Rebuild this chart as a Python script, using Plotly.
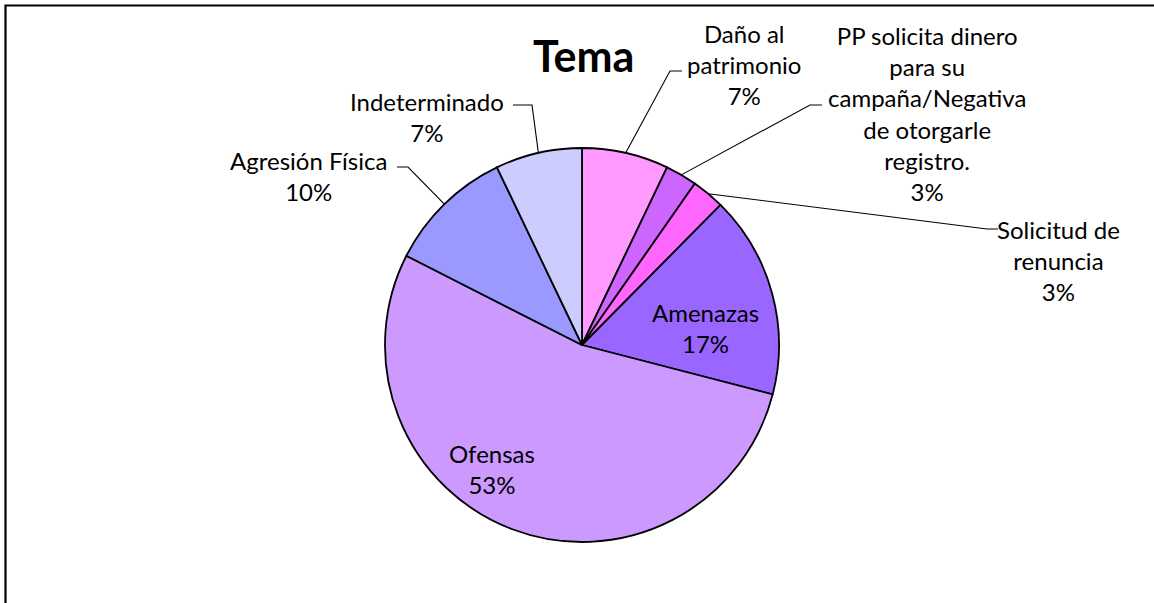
import math
import plotly.graph_objects as go

# ---- data ----
categories = ["Daño al patrimonio",
              "PP solicita dinero para su campaña/Negativa de otorgarle registro.",
              "Solicitud de renuncia",
              "Amenazas",
              "Ofensas",
              "Agresión Física",
              "Indeterminado"]
display_labels = ["Daño al<br>patrimonio",
                  "PP solicita dinero<br>para su<br>campaña/Negativa<br>de otorgarle<br>registro.",
                  "Solicitud de<br>renuncia",
                  "Amenazas",
                  "Ofensas",
                  "Agresión Física",
                  "Indeterminado"]
values = [7.1, 2.6, 2.7, 16.6, 53.4, 10.4, 7.1]
colors = ["#FF99FF", "#CC66FF", "#FF66FF", "#9966FF", "#CC99FF", "#9999FF", "#CCCCFF"]
title_text = "Tema"

# ---- layout constants (pixels) ----
W, H = 1154, 603
CX, CY, R = 582, 345, 197
FONT = "Lato, Calibri, Carlito, sans-serif"
FS = 24

# label block centres (pixels) and leader knee points (None = inside label)
label_pos = [(744, 65), (927, 113), (1058, 260), (705, 328), (492, 469), (308, 176), (427, 117)]
leader_knees = [((670, 71), (682, 71)),
                ((810, 105), (822, 105)),
                ((987, 229), (998, 229)),
                None,
                None,
                ((408, 167), (397, 167)),
                ((532, 105), (513, 105))]


def px(x):
    return x / W


def py(y):
    return 1 - y / H


fig = go.Figure(go.Pie(
    labels=categories,
    values=values,
    sort=False,
    direction="clockwise",
    rotation=0,
    textinfo="none",
    marker=dict(colors=colors, line=dict(color="black", width=1.8)),
    domain=dict(x=[px(CX - R), px(CX + R)], y=[py(CY + R), py(CY - R)]),
    showlegend=False,
    hoverinfo="label+percent",
))

total = sum(values)
annotations = []
shapes = []
cum = 0.0
for i, v in enumerate(values):
    pct = round(v / total * 100)
    mid = (cum + v / 2) / total * 2 * math.pi
    cum += v
    lx, ly = label_pos[i]
    annotations.append(dict(
        x=px(lx), y=py(ly), xref="paper", yref="paper",
        text=f"{display_labels[i]}<br>{pct}%", showarrow=False,
        xanchor="center", yanchor="middle", align="center",
        font=dict(family=FONT, size=FS, color="black"),
    ))
    if leader_knees[i] is not None:
        ax = CX + R * math.sin(mid)
        ay = CY - R * math.cos(mid)
        (k1x, k1y), (k2x, k2y) = leader_knees[i]
        path = f"M {px(ax)},{py(ay)} L {px(k1x)},{py(k1y)} L {px(k2x)},{py(k2y)}"
        shapes.append(dict(type="path", path=path, xref="paper", yref="paper",
                           line=dict(color="black", width=1.1)))

annotations.append(dict(
    x=px(583), y=py(55), xref="paper", yref="paper",
    text=f"<b>{title_text}</b>", showarrow=False,
    xanchor="center", yanchor="middle",
    font=dict(family=FONT, size=43, color="black"),
))

# outer chart border
shapes.append(dict(type="rect", xref="paper", yref="paper",
                   x0=px(5.5), y0=py(610), x1=px(1165), y1=py(5.5),
                   line=dict(color="black", width=2.2)))

fig.update_layout(
    width=W, height=H,
    margin=dict(l=0, r=0, t=0, b=0),
    paper_bgcolor="white", plot_bgcolor="white",
    annotations=annotations, shapes=shapes,
)

fig.write_html("out.html", config={"displayModeBar": False},
               post_script="document.body.style.margin='0';")
